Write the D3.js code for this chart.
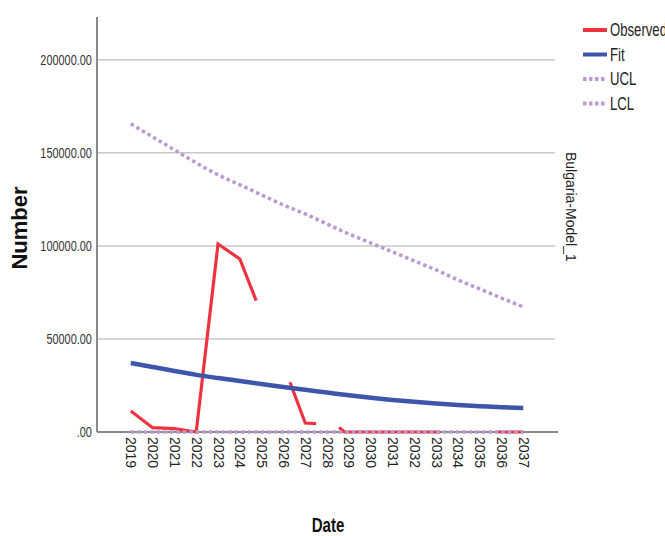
<!DOCTYPE html>
<html>
<head>
<meta charset="utf-8">
<title>Bulgaria-Model_1</title>
<script src="https://cdn.jsdelivr.net/npm/d3@7"></script>
<style>
    body { margin: 0; background: #fff; }
    text { font-family: "Liberation Sans", Arial, sans-serif; }
</style>
</head>
<body>
<div id="chart"></div>
<script>
    // x tick labels (years)
    var years = [2019, 2020, 2021, 2022, 2023, 2024, 2025, 2026, 2027, 2028,
                 2029, 2030, 2031, 2032, 2033, 2034, 2035, 2036, 2037];

    // model fit and control limits, one value per year
    var fitValues = [37100, 34900, 32800, 30700, 29000, 27400, 25800, 24200, 22700, 21200,
                     19700, 18400, 17200, 16200, 15300, 14500, 13900, 13300, 12900];
    var uclValues = [165600, 158600, 151600, 144600, 138200, 132800, 127400, 122000, 117200, 111800,
                     106400, 101600, 96800, 91900, 87100, 81700, 76900, 72000, 67200];
    var lclValues = [0, 0, 0, 0, 0, 0, 0, 0, 0, 0, 0, 0, 0, 0, 0, 0, 0, 0, 0];

    // observed series (dates as fractional years, null = gap)
    var obsDate  = [2019, 2020, 2021, 2022, 2023, 2024, 2024.75, null,
                    2026.3, 2027, 2027.5, null,
                    2028.55, 2028.8, 2029, 2030, 2031, 2032, 2033, 2033.2, null,
                    2035.8, 2036, 2037];
    var obsValue = [11300, 2300, 1800, 0, 101000, 93000, 70600, null,
                    26700, 4800, 4500, null,
                    2500, 0, 0, 0, 0, 0, 0, 0, null,
                    0, 0, 0];

    var yTicks = [0, 50000, 100000, 150000, 200000];
    var yTickLabels = [".00", "50000.00", "100000.00", "150000.00", "200000.00"];

    var seriesNames = ["Observed", "Fit", "UCL", "LCL"];
    var seriesColors = ["#ee3340", "#3d55aa", "#b99bd2", "#b99bd2"];

    var W = 665, H = 536;
    var plotL = 97, plotR = 556, plotT = 17, plotB = 432;

    var svg = d3.select("#chart").append("svg")
        .attr("width", W)
        .attr("height", H);

    var x = d3.scaleLinear()
        .domain([2017.45, 2038.5])
        .range([plotL, plotR]);

    var y = d3.scaleLinear()
        .domain([0, 223000])
        .range([plotB, plotT]);

    // gridlines
    svg.append("g")
        .selectAll("line")
        .data(yTicks.slice(1))
        .enter()
        .append("line")
        .attr("x1", plotL)
        .attr("x2", plotR - 1)
        .attr("y1", d => y(d))
        .attr("y2", d => y(d))
        .attr("stroke", "#c9c9c9")
        .attr("stroke-width", 1.5);

    // y axis
    var yAxis = svg.append("g")
        .attr("transform", "translate(" + plotL + ",0)")
        .call(d3.axisLeft(y)
            .tickValues(yTicks)
            .tickFormat((d, i) => yTickLabels[i])
            .tickSize(0)
            .tickSizeOuter(0));
    yAxis.select(".domain")
        .attr("d", "M0," + plotT + "V" + plotB)
        .attr("stroke", "#8a8a8a")
        .attr("stroke-width", 2);
    yAxis.selectAll("text")
        .attr("x", -6.5)
        .attr("dy", "0.35em")
        .attr("transform", "scale(0.78,1)")
        .style("font-size", "14px")
        .style("fill", "#333");

    // x axis
    var xAxis = svg.append("g")
        .attr("transform", "translate(0," + plotB + ")")
        .call(d3.axisBottom(x)
            .tickValues(years)
            .tickFormat(d => String(d))
            .tickSize(0)
            .tickSizeOuter(0));
    xAxis.select(".domain")
        .attr("d", "M" + plotL + ",0H" + (plotR + 2))
        .attr("stroke", "#8a8a8a")
        .attr("stroke-width", 2);
    xAxis.selectAll("text")
        .attr("transform", "rotate(90)")
        .attr("x", 5)
        .attr("y", 0)
        .attr("dy", "0.35em")
        .attr("text-anchor", "start")
        .style("font-size", "14px")
        .style("fill", "#222");

    var line = d3.line()
        .defined(d => d[1] !== null)
        .x(d => x(d[0]))
        .y(d => y(d[1]));

    var smooth = d3.line()
        .curve(d3.curveMonotoneX)
        .x(d => x(d[0]))
        .y(d => y(d[1]));

    // observed
    svg.append("path")
        .datum(obsDate.map((d, i) => [d, obsValue[i]]))
        .attr("d", line)
        .attr("fill", "none")
        .attr("stroke", seriesColors[0])
        .attr("stroke-width", 3.2)
        .attr("stroke-linejoin", "miter");

    // fit
    svg.append("path")
        .datum(years.map((d, i) => [d, fitValues[i]]))
        .attr("d", smooth)
        .attr("fill", "none")
        .attr("stroke", seriesColors[1])
        .attr("stroke-width", 4.5);

    // UCL / LCL
    [uclValues, lclValues].forEach(function(vals, k) {
        svg.append("path")
            .datum(years.map((d, i) => [d, vals[i]]))
            .attr("d", smooth)
            .attr("fill", "none")
            .attr("stroke", seriesColors[2 + k])
            .attr("stroke-width", 3.5)
            .attr("stroke-dasharray", "3.5,3");
    });

    // axis titles
    svg.append("text")
        .attr("transform", "translate(27,228) rotate(-90)")
        .attr("text-anchor", "middle")
        .style("font-size", "22px")
        .style("font-weight", "bold")
        .style("fill", "#111")
        .text("Number");

    svg.append("text")
        .attr("transform", "translate(328,532) scale(0.72,1)")
        .attr("text-anchor", "middle")
        .style("font-size", "21px")
        .style("font-weight", "bold")
        .style("fill", "#111")
        .text("Date");

    // panel label on the right
    svg.append("text")
        .attr("transform", "translate(566,152) rotate(90)")
        .attr("text-anchor", "start")
        .style("font-size", "14px")
        .style("fill", "#222")
        .text("Bulgaria-Model_1");

    // legend
    var legend = svg.append("g")
        .selectAll("g")
        .data(seriesNames)
        .enter()
        .append("g")
        .attr("transform", (d, i) => "translate(583," + (30 + i * 24.5) + ")");

    legend.append("line")
        .attr("x1", 0)
        .attr("x2", 24)
        .attr("stroke", (d, i) => seriesColors[i])
        .attr("stroke-width", 4)
        .attr("stroke-dasharray", (d, i) => i > 1 ? "3.5,2.5" : null);

    legend.append("text")
        .attr("transform", "translate(27,0) scale(0.73,1)")
        .attr("dy", "0.35em")
        .style("font-size", "18px")
        .style("fill", "#222")
        .text(d => d);
</script>
</body>
</html>
